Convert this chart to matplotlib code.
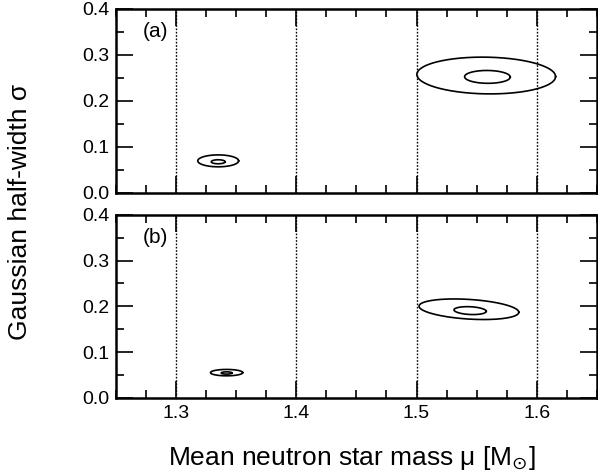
import numpy as np
import matplotlib
matplotlib.use("Agg")
import matplotlib.pyplot as plt
from matplotlib.ticker import MultipleLocator, FormatStrFormatter

plt.rcParams['font.family'] = ['Liberation Sans', 'DejaVu Sans']
plt.rcParams['mathtext.fontset'] = 'dejavusans'

# confidence contours: centre (mu, sigma), half-axes and shear slope
# panel (a)
a_mu = [1.335, 1.335, 1.558, 1.559]
a_sig = [0.069, 0.067, 0.255, 0.252]
a_dmu = [0.017, 0.0058, 0.0577, 0.019]
a_dsig = [0.013, 0.0044, 0.040, 0.014]
a_tilt = [0.0, 0.0, -0.04, -0.02]
# panel (b)
b_mu = [1.342, 1.342, 1.5436, 1.5446]
b_sig = [0.055, 0.0542, 0.1935, 0.1905]
b_dmu = [0.0134, 0.0045, 0.0415, 0.0134]
b_dsig = [0.007, 0.0025, 0.0215, 0.0085]
b_tilt = [0.0, 0.0, -0.16, -0.12]

vlines = [1.3, 1.4, 1.5, 1.6]
panel_tags = ['(a)', '(b)']

fig = plt.figure(figsize=(5.98, 4.73), dpi=100)
ax_a = fig.add_axes([0.194, 0.593, 0.804, 0.388])
ax_b = fig.add_axes([0.194, 0.159, 0.804, 0.387])

t = np.linspace(0, 2 * np.pi, 300)


def draw_panel(ax, mu, sig, dmu, dsig, tilt, tag, show_x):
    for cx, cy, rx, ry, k in zip(mu, sig, dmu, dsig, tilt):
        dx = rx * np.cos(t)
        ax.plot(cx + dx, cy + ry * np.sin(t) + k * dx, color='black', lw=1.2)
    for v in vlines:
        ax.axvline(v, color='black', lw=1.0, linestyle=(0, (1.2, 1.2)))
    ax.set_xlim(1.25, 1.65)
    ax.set_ylim(0.0, 0.4)
    ax.xaxis.set_major_locator(MultipleLocator(0.1))
    ax.xaxis.set_minor_locator(MultipleLocator(0.025))
    ax.yaxis.set_major_locator(MultipleLocator(0.1))
    ax.yaxis.set_minor_locator(MultipleLocator(0.05))
    ax.yaxis.set_major_formatter(FormatStrFormatter('%.1f'))
    ax.xaxis.set_major_formatter(FormatStrFormatter('%.1f'))
    ax.tick_params(which='both', direction='in', top=True, right=True,
                   width=1.2, labelsize=14, pad=5)
    ax.tick_params(which='major', length=12)
    ax.tick_params(which='minor', length=6)
    if not show_x:
        ax.tick_params(labelbottom=False)
    for s in ax.spines.values():
        s.set_linewidth(1.8)
    ax.text(0.056, 0.876, tag, transform=ax.transAxes, fontsize=15,
            ha='left', va='center')


draw_panel(ax_a, a_mu, a_sig, a_dmu, a_dsig, a_tilt, panel_tags[0], False)
draw_panel(ax_b, b_mu, b_sig, b_dmu, b_dsig, b_tilt, panel_tags[1], True)

fig.text(0.034, 0.552, 'Gaussian half-width σ', rotation=90,
         ha='center', va='center', fontsize=19)
fig.text(0.589, 0.032, r'Mean neutron star mass μ [M$_{\odot}$]',
         ha='center', va='center', fontsize=19)

fig.savefig('out.png', dpi=100)
